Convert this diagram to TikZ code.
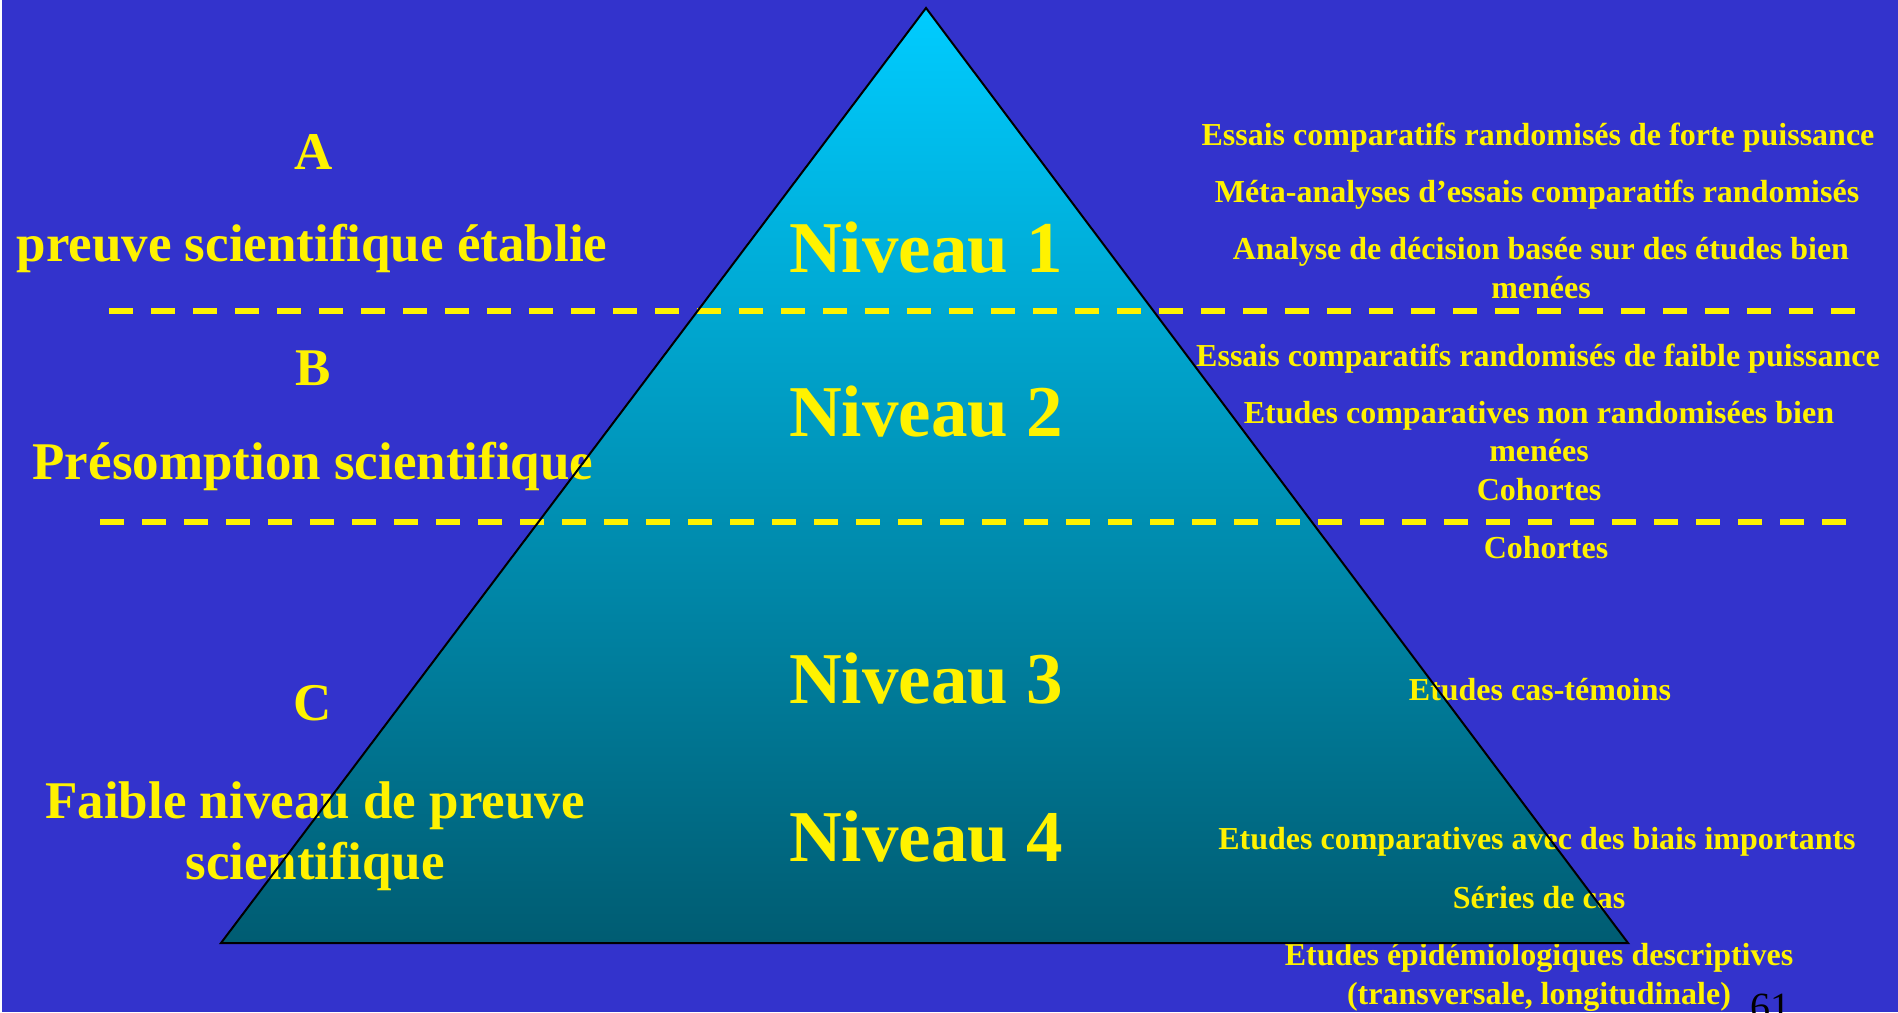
\documentclass[tikz,border=0pt]{standalone}
\usepackage{fontspec}
\setmainfont{Liberation Serif}
\definecolor{fond}{HTML}{3333CC}
\definecolor{pointe}{HTML}{00CCFF}
\definecolor{base}{HTML}{005C72}

\begin{document}
\begin{tikzpicture}[x=1pt, y=-1pt,
    niveau/.style={text=yellow, anchor=base, font=\bfseries\fontsize{73}{80}\selectfont},
    grade/.style={text=yellow, anchor=base, align=center, font=\bfseries\fontsize{53}{61}\selectfont},
    etude/.style={text=yellow, anchor=base, align=center, font=\bfseries\fontsize{32}{38.5}\selectfont},
    seuil/.style={yellow, line width=6pt, dash pattern=on 24pt off 18pt}]
  % page and background
  \useasboundingbox (0,0) rectangle (1898,1012);
  \fill[fond] (0,0) rectangle (1898,1012);
  \fill[white] (0,0) rectangle (2,1012);

  % the pyramid, shaded from light to dark
  \coordinate (sommet) at (926,8);
  \coordinate (gauche) at (221,943);
  \coordinate (droite) at (1628,943);
  \shade[top color=pointe, bottom color=base] (sommet) -- (gauche) -- (droite) -- cycle;

  % dashed limits between the grades
  \coordinate (s1a) at (109,311);
  \coordinate (s1b) at (1858,311);
  \coordinate (s2a) at (100,522);
  \coordinate (s2b) at (1850,522);
  \draw[seuil] (s1a) -- (s1b);
  \draw[seuil] (s2a) -- (s2b);

  % grades on the left (base = last line)
  \node[grade] (gA) at (314,169) {A};
  \node[grade] (tA) at (312,261) {preuve scientifique établie};
  \node[grade] (gB) at (313,385) {B};
  \node[grade] (tB) at (313,479) {Présomption scientifique};
  \node[grade] (gC) at (313,720) {C};
  \node[grade] (tC) at (315,879) {Faible niveau de preuve\\scientifique};

  % levels in the pyramid
  \node[niveau] (n1) at (926,272) {Niveau 1};
  \node[niveau] (n2) at (926,436) {Niveau 2};
  \node[niveau] (n3) at (926,703) {Niveau 3};
  \node[niveau] (n4) at (926,861) {Niveau 4};

  % kinds of studies on the right
  \node[etude] (e1) at (1538,145) {Essais comparatifs randomisés de forte puissance};
  \node[etude] (e2) at (1537,202) {Méta-analyses d’essais comparatifs randomisés};
  \node[etude] (e3) at (1541,298) {Analyse de décision basée sur des études bien\\menées};
  \node[etude] (e4) at (1538,366) {Essais comparatifs randomisés de faible puissance};
  \node[etude] (e5) at (1539,500) {Etudes comparatives non randomisées bien\\menées\\Cohortes};
  \node[etude] (e6) at (1546,558) {Cohortes};
  \node[etude] (e7) at (1540,700) {Etudes cas-témoins};
  \node[etude] (e8) at (1537,849) {Etudes comparatives avec des biais importants};
  \node[etude] (e9) at (1539,908) {Séries de cas};
  \node[etude] (e10) at (1539,1004) {Etudes épidémiologiques descriptives\\(transversale, longitudinale)};

  % page number
  \node[anchor=north, inner sep=0pt, font=\fontsize{40}{40}\selectfont] (page) at (1770,994) {61};

  % outline on top
  \draw[line width=2pt, line join=miter] (sommet) -- (gauche) -- (droite) -- cycle;
\end{tikzpicture}
\end{document}
